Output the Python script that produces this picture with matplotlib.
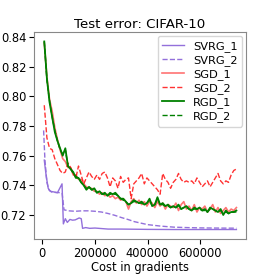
import numpy as np
import matplotlib
matplotlib.use("Agg")
import matplotlib.pyplot as plt

# cost (in gradients) for the noisy runs
cost = [7500 + 10000 * k for k in range(74)]

sgd_1 = [0.836, 0.813, 0.798, 0.790, 0.779, 0.771, 0.764, 0.758, 0.756, 0.752,
         0.752, 0.747, 0.747, 0.744, 0.744, 0.741, 0.739, 0.738, 0.738, 0.736,
         0.736, 0.734, 0.735, 0.733, 0.734, 0.732, 0.733, 0.731, 0.732, 0.730,
         0.731, 0.729, 0.724, 0.729, 0.731, 0.728, 0.730, 0.727, 0.729, 0.726,
         0.729, 0.728, 0.725, 0.729, 0.726, 0.728, 0.724, 0.727, 0.726, 0.725,
         0.728, 0.723, 0.727, 0.729, 0.724, 0.726, 0.723, 0.727, 0.722, 0.725,
         0.724, 0.726, 0.722, 0.724, 0.727, 0.722, 0.725, 0.721, 0.723, 0.725,
         0.722, 0.724, 0.723, 0.725]

sgd_2 = [0.794, 0.772, 0.765, 0.764, 0.758, 0.754, 0.750, 0.748, 0.749, 0.755,
         0.752, 0.748, 0.745, 0.753, 0.747, 0.741, 0.745, 0.749, 0.746, 0.744,
         0.747, 0.744, 0.748, 0.749, 0.745, 0.739, 0.745, 0.743, 0.738, 0.746,
         0.742, 0.744, 0.745, 0.731, 0.741, 0.743, 0.745, 0.748, 0.741, 0.745,
         0.743, 0.741, 0.739, 0.737, 0.734, 0.748, 0.744, 0.742, 0.738, 0.742,
         0.744, 0.748, 0.744, 0.742, 0.743, 0.742, 0.743, 0.741, 0.745, 0.742,
         0.739, 0.741, 0.743, 0.739, 0.742, 0.745, 0.748, 0.743, 0.741, 0.743,
         0.742, 0.747, 0.750, 0.751]

rgd_1 = [0.837, 0.812, 0.796, 0.786, 0.776, 0.770, 0.765, 0.760, 0.765, 0.753,
         0.751, 0.749, 0.745, 0.745, 0.742, 0.740, 0.737, 0.739, 0.737, 0.738,
         0.735, 0.736, 0.734, 0.735, 0.733, 0.735, 0.734, 0.735, 0.733, 0.731,
         0.731, 0.729, 0.727, 0.728, 0.730, 0.729, 0.728, 0.729, 0.727, 0.728,
         0.731, 0.726, 0.727, 0.732, 0.727, 0.728, 0.726, 0.727, 0.725, 0.726,
         0.725, 0.727, 0.724, 0.725, 0.726, 0.724, 0.723, 0.725, 0.724, 0.725,
         0.723, 0.724, 0.722, 0.725, 0.724, 0.723, 0.722, 0.724, 0.720, 0.723,
         0.721, 0.722, 0.722, 0.723]

rgd_2 = [0.837, 0.811, 0.797, 0.786, 0.777, 0.770, 0.764, 0.761, 0.764, 0.753,
         0.751, 0.748, 0.746, 0.745, 0.742, 0.740, 0.738, 0.739, 0.737, 0.737,
         0.735, 0.736, 0.734, 0.734, 0.733, 0.734, 0.734, 0.734, 0.733, 0.731,
         0.730, 0.729, 0.727, 0.728, 0.729, 0.729, 0.728, 0.728, 0.727, 0.728,
         0.730, 0.726, 0.727, 0.731, 0.727, 0.727, 0.726, 0.726, 0.725, 0.726,
         0.725, 0.726, 0.724, 0.725, 0.725, 0.724, 0.723, 0.724, 0.724, 0.724,
         0.723, 0.723, 0.722, 0.724, 0.724, 0.723, 0.722, 0.723, 0.721, 0.722,
         0.721, 0.722, 0.722, 0.722]

svrg_1_cost = [7500, 15000, 22500, 30000, 45000, 57500, 75000, 80000, 87500,
               95000, 105000, 115000, 125000, 140000, 148000, 153000, 165000,
               180000, 200000, 250000, 300000, 400000, 500000, 600000, 737500]
svrg_1 = [0.757, 0.746, 0.738, 0.736, 0.7355, 0.735, 0.741, 0.714, 0.7175,
          0.715, 0.717, 0.7165, 0.7167, 0.718, 0.7175, 0.711, 0.7115,
          0.711, 0.7112, 0.7105, 0.7105, 0.7103, 0.7102, 0.7102, 0.7102]

svrg_2_cost = [5000, 10000, 17500, 25000, 35000, 50000, 75000, 82500, 100000,
               125000, 150000, 175000, 200000, 225000, 250000, 275000, 300000,
               325000, 350000, 400000, 450000, 500000, 550000, 600000, 650000,
               737500]
svrg_2 = [0.777, 0.757, 0.742, 0.737, 0.7355, 0.7352, 0.735, 0.7235, 0.7228,
          0.7225, 0.7228, 0.7228, 0.7225, 0.722, 0.721, 0.7198, 0.7183,
          0.717, 0.7155, 0.7135, 0.7125, 0.7118, 0.7115, 0.7113, 0.7112,
          0.7111]

plt.rcParams['font.size'] = 8.3

fig = plt.figure(figsize=(2.74, 2.74), dpi=100)
ax = fig.add_axes([0.124, 0.128, 0.774, 0.755])

purple = "mediumpurple"
ax.plot(svrg_1_cost, svrg_1, color=purple, lw=1.0, label="SVRG_1")
ax.plot(svrg_2_cost, svrg_2, color=purple, lw=1.0, ls="--", label="SVRG_2")
ax.plot(cost, sgd_1, color="red", lw=1.2, alpha=0.55, label="SGD_1")
ax.plot(cost, sgd_2, color="red", lw=1.0, ls="--", alpha=0.8, label="SGD_2")
ax.plot(cost, rgd_1, color="green", lw=1.3, label="RGD_1")
ax.plot(cost, rgd_2, color="green", lw=1.0, ls="--", label="RGD_2")

ax.set_yticks([0.72, 0.74, 0.76, 0.78, 0.80, 0.82, 0.84])
ax.set_xticks([0, 200000, 400000, 600000])
ax.set_title("Test error: CIFAR-10", fontsize=9.6, pad=3)
ax.set_xlabel("Cost in gradients", fontsize=8.3, labelpad=1)
ax.tick_params(labelsize=8.3, pad=2)
for s in ax.spines.values():
    s.set_color("#888888")

ax.legend(loc="upper right", fontsize=8.2, handlelength=1.93, labelspacing=0.28,
          borderaxespad=0.36, handletextpad=0.76)

fig.savefig("out.png", dpi=100)
